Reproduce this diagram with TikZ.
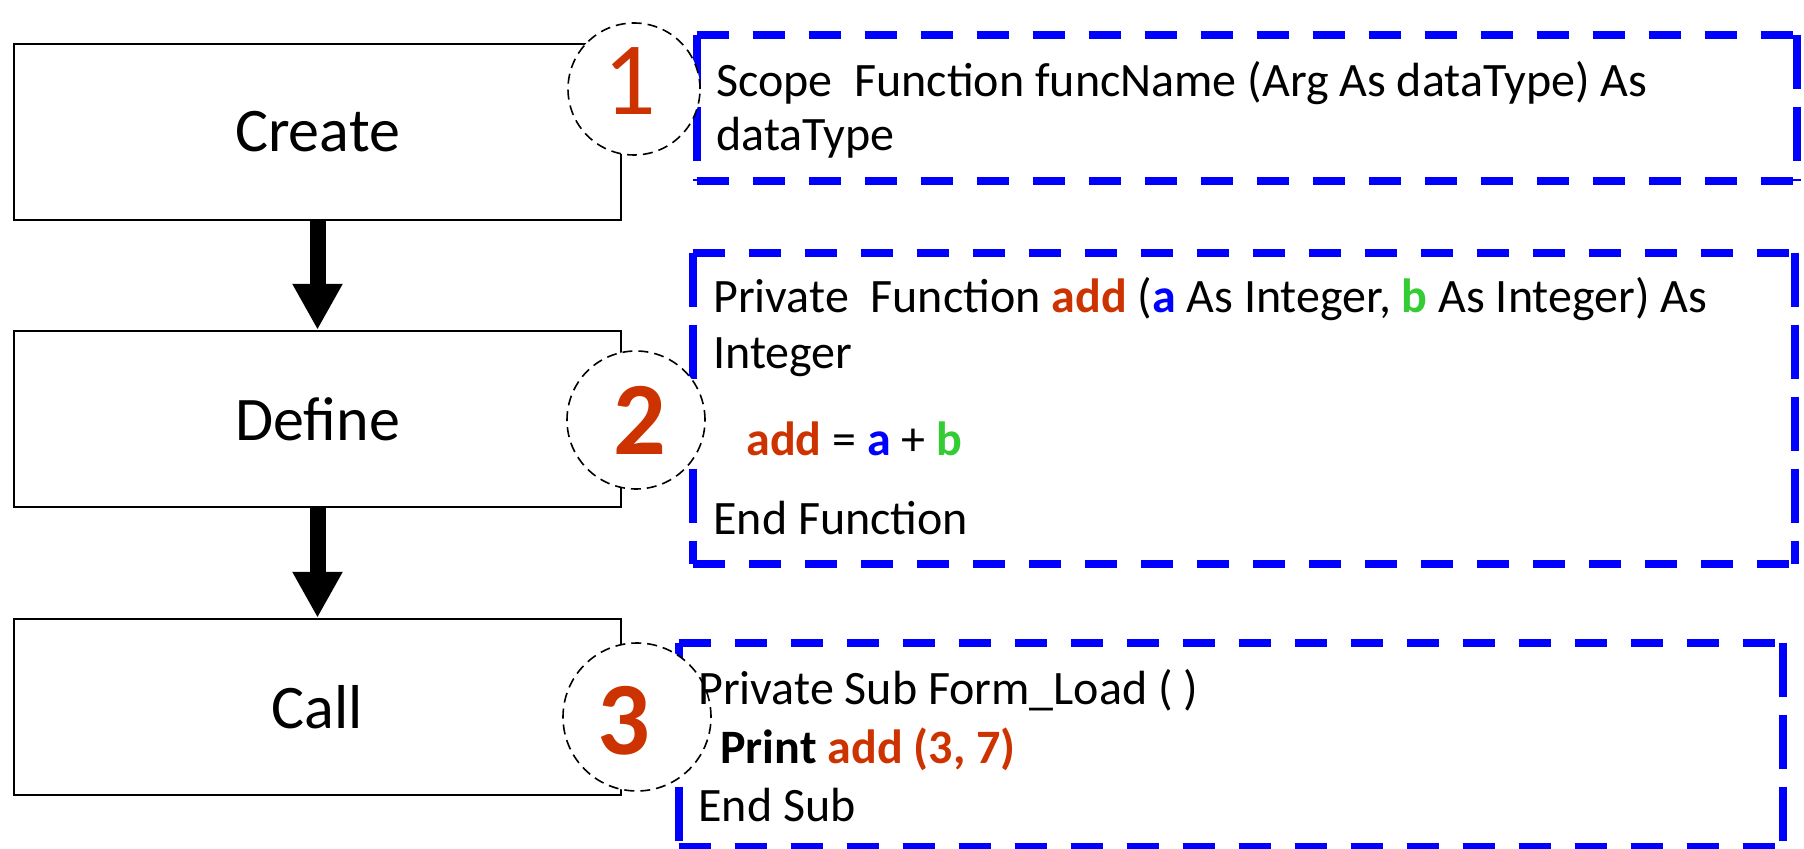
\documentclass[tikz,border=0pt]{standalone}
\usepackage{fontspec}
\setmainfont{Carlito}
\usetikzlibrary{arrows.meta}
\definecolor{numred}{RGB}{204,51,0}
\definecolor{codeblue}{RGB}{0,0,255}
\definecolor{codegreen}{RGB}{51,204,51}
\tikzset{
 stepbox/.style={draw=black, line width=1.2pt, minimum width=303.5pt, minimum height=88pt, inner sep=0pt, font=\fontsize{31}{37}\selectfont},
 flowarrow/.style={line width=8pt, -{Triangle[width=23.5pt,length=23pt]}},
 numcircle/.style={circle, draw=black, fill=white, line width=0.8pt, dash pattern=on 5pt off 3pt, inner sep=0pt},
 numtext/.style={anchor=base, text=numred, inner sep=0pt, font=\fontsize{52}{60}\selectfont},
 codebox/.style={draw=none, inner sep=0pt},
 hdash/.style={draw=codeblue, line width=4pt, dash pattern=on 16pt off 12pt},
 vdash/.style={draw=codeblue, line width=4pt, dash pattern=on 27pt off 9pt},
 codeline/.style={anchor=base west, inner sep=0pt, font=\fontsize{24}{29}\selectfont},
}
\begin{document}
\begin{tikzpicture}[x=0.5pt,y=-0.5pt]
\useasboundingbox (0,0) rectangle (1804,849);
% flow boxes
\node[stepbox] (create) at (317.5,132) {Create};
\node[stepbox] (define) at (317.5,419) {Define};
\node[stepbox] (call) at (317.5,707) {Call};
\draw[flowarrow] (create.south) -- (define.north);
\draw[flowarrow] (define.south) -- (call.north);
% blue dashed code boxes
\node[codebox, minimum width=550pt, minimum height=73pt] (b1) at (1247,108) {};
\node[codebox, minimum width=551pt, minimum height=155.5pt] (b2) at (1244,408.5) {};
\node[codebox, minimum width=552pt, minimum height=102pt] (b3) at (1231,745) {};
\foreach \b in {b1,b2,b3}{
 \draw[hdash] (\b.north west) -- (\b.north east);
 \draw[hdash] (\b.south west) -- (\b.south east);
 \draw[vdash] (\b.north west) -- (\b.south west);
 \draw[vdash] (\b.north east) -- (\b.south east);
}
% number circles
\node[numcircle, minimum size=66pt] (c1) at (634,89) {};
\node[numcircle, minimum size=69pt] (c2) at (636,420) {};
\node[numcircle, minimum size=74pt] (c3) at (637,717) {};
\node[numtext] (n1) at (630,115) {1};
\node[numtext] (n2) at (640,455) {\bfseries 2};
\node[numtext] (n3) at (624,754) {\bfseries 3};
% code text
\node[codeline] (t1a) at (716,97) {Scope\ \ Function funcName (Arg As dataType) As};
\node[codeline] (t1b) at (716,151) {dataType};
\node[codeline] (t2a) at (713,313) {Private\ \ Function \textcolor{numred}{\bfseries add} (\textcolor{codeblue}{\bfseries a} As Integer, \textcolor{codegreen}{\bfseries b} As Integer) As};
\node[codeline] (t2b) at (713,369) {Integer};
\node[codeline] (t2c) at (746,456) {\textcolor{numred}{\bfseries add} = \textcolor{codeblue}{\bfseries a} + \textcolor{codegreen}{\bfseries b}};
\node[codeline] (t2d) at (713,535) {End Function};
\node[codeline] (t3a) at (698,704) {Private Sub Form\_Load ( )};
\node[codeline] (t3b) at (720,763) {\bfseries Print \textcolor{numred}{add (3, 7)}};
\node[codeline] (t3c) at (698,821) {End Sub};
\end{tikzpicture}
\end{document}
